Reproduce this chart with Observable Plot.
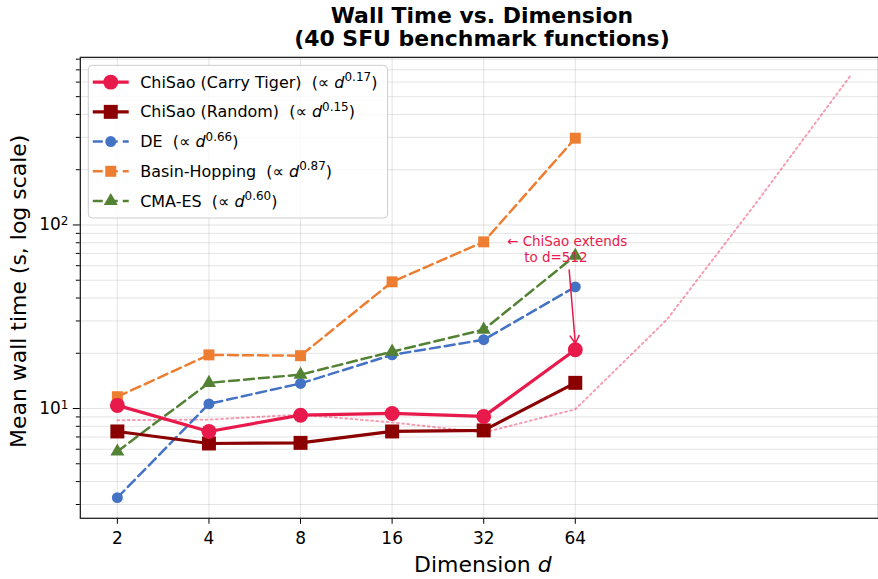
<!DOCTYPE html>
<html><head><meta charset="utf-8">
<script src="https://cdn.jsdelivr.net/npm/d3@7"></script>
<script src="https://cdn.jsdelivr.net/npm/@observablehq/plot@0.6"></script>
<style>
html,body{margin:0;padding:0;background:#fff;overflow:hidden;}
#chart{width:878px;height:579px;overflow:hidden;position:relative;}
</style></head><body><div id="chart"></div>
<script>
// ---------------- data ----------------
const dims = [2, 4, 8, 16, 32, 64];
const carryTiger = [10.4, 7.5, 9.2, 9.4, 9.06, 20.9];
const randomCS   = [7.5, 6.45, 6.5, 7.5, 7.6, 13.8];
const deVals     = [3.27, 10.6, 13.7, 19.6, 23.7, 46];
const basinVals  = [11.6, 19.6, 19.4, 49, 80.9, 297];
const cmaVals    = [5.83, 13.8, 15.3, 20.4, 26.9, 68];
const extDims = [2, 4, 8, 16, 32, 64, 128, 256, 512];
const extVals = [8.64, 8.7, 9.27, 8.4, 7.4, 9.9, 30.5, 137, 646];
const seriesNames = ["ChiSao (Carry Tiger)", "ChiSao (Random)", "DE", "Basin-Hopping", "CMA-ES"];
const exponents = ["0.17", "0.15", "0.66", "0.87", "0.60"];
const yMajor = [10, 100];
const yMinor = [3,4,5,6,7,8,9,20,30,40,50,60,70,80,90,200,300,400,500,600,700,800];
const titleLines = ["Wall Time vs. Dimension", "(40 SFU benchmark functions)"];
const xLabelText = "Dimension ";
const yLabelText = "Mean wall time (s, log scale)";
const annotLines = ["\u2190 ChiSao extends", "to d=512"];

// ---------------- styles ----------------
const values = [carryTiger, randomCS, deVals, basinVals, cmaVals];
const colors = ["#e8194b", "#8b0000", "#4472c4", "#ed7d31", "#548235"];
const symbols = ["circle", "square", "circle", "square", "triangle"];
const d3symbols = {circle: d3.symbolCircle, square: d3.symbolSquare, triangle: d3.symbolTriangle};
const widths = [3.2, 3.2, 2.5, 2.5, 2.5];
const dashes = [null, null, "10,5", "10,5", "10,5"];
const radii = [7.5, 7.9, 5.5, 6.2, 5.2];
const drawOrder = [2, 3, 4, 1, 0];
const annot = [{d: 38.2, t: 81.3}, {d: 43.5, t: 66.6}];
const arrowSpec = {x1: 61.1, y1: 56.9, x2: 64, y2: 22.6};

const rows = seriesNames.map((name, i) => dims.map((d, j) => ({series: name, d, t: values[i][j]})));
const extRows = extDims.map((d, j) => ({d, t: extVals[j]}));

const seriesMarks = drawOrder.flatMap(i => [
  Plot.line(rows[i], {x: "d", y: "t", stroke: colors[i], strokeWidth: widths[i],
    strokeDasharray: dashes[i] || undefined, strokeLinejoin: "round"}),
  Plot.dot(rows[i], {x: "d", y: "t", symbol: () => symbols[i], r: radii[i], fill: colors[i], stroke: "none"})
]);

const svg = Plot.plot({
  width: 880, height: 579,
  marginLeft: 80, marginRight: 0, marginTop: 57, marginBottom: 60,
  x: {type: "log", base: 2, domain: [1.511, 635]},
  y: {type: "log", domain: [2.523, 818.5]},
  style: {fontFamily: "DejaVu Sans", fontSize: "17px", color: "#000", background: "#fff", overflow: "visible"},
  marks: [
    Plot.gridY(yMajor.concat(yMinor), {stroke: "#b0b0b0", strokeOpacity: 0.35, strokeWidth: 1}),
    Plot.gridX(dims, {stroke: "#b0b0b0", strokeOpacity: 0.35, strokeWidth: 1}),
    Plot.line(extRows, {x: "d", y: "t", stroke: colors[0], strokeOpacity: 0.42, strokeWidth: 2, strokeDasharray: "1.8,3.4"}),
    ...seriesMarks,
    Plot.arrow([arrowSpec], {x1: "x1", y1: "y1", x2: "x2", y2: "y2", stroke: colors[0], strokeWidth: 1.5, headLength: 9, bend: 0}),
    Plot.text([annotLines[0]], {x: () => annot[0].d, y: () => annot[0].t, text: d => d, textAnchor: "start", fill: colors[0], fontSize: 13.5}),
    Plot.text([annotLines[1]], {x: () => annot[1].d, y: () => annot[1].t, text: d => d, textAnchor: "start", fill: colors[0], fontSize: 13.5}),
    Plot.axisX(dims, {tickSize: 6, tickPadding: 8, tickFormat: d => String(d), label: null, fontSize: 17}),
    Plot.axisY(yMajor, {tickSize: 7, tickPadding: 5, tickFormat: d => "10^" + Math.round(Math.log10(d)), label: null, fontSize: 17}),
    Plot.axisY(yMinor, {tickSize: 4, tickFormat: () => "", label: null}),
    Plot.frame({stroke: "#222", strokeWidth: 1.3})
  ]
});
document.getElementById("chart").appendChild(svg);

const s = d3.select(svg);
// superscript y tick labels
s.selectAll('g[aria-label="y-axis tick label"] text').each(function() {
  const t = d3.select(this);
  const txt = t.text();
  if (!txt.includes("^")) return;
  const [base, ex] = txt.split("^");
  t.text(null);
  t.append("tspan").text(base);
  t.append("tspan").attr("dy", "-0.45em").attr("font-size", "12px").text(ex);
});

// title
titleLines.forEach((line, i) => {
  s.append("text").attr("x", 483).attr("y", 23 + i * 23.5).attr("text-anchor", "middle")
    .attr("font-family", "DejaVu Sans").attr("font-weight", "bold").attr("font-size", 22).attr("fill", "#000")
    .text(line);
});
// x label
const xl = s.append("text").attr("x", 484).attr("y", 573).attr("text-anchor", "middle")
  .attr("font-family", "DejaVu Sans").attr("font-size", 22).attr("fill", "#000");
xl.append("tspan").style("white-space", "pre").text(xLabelText);
xl.append("tspan").attr("font-style", "italic").text("d");
// y label
s.append("text").attr("transform", "translate(26.5,292) rotate(-90)").attr("text-anchor", "middle")
  .attr("font-family", "DejaVu Sans").attr("font-size", 22).attr("fill", "#000").text(yLabelText);

// legend
const lg = s.append("g").attr("text-anchor", "start");
lg.append("rect").attr("x", 88.5).attr("y", 65.5).attr("width", 300).attr("height", 153).attr("rx", 4)
  .attr("fill", "#fff").attr("fill-opacity", 0.8).attr("stroke", "#ccc").attr("stroke-width", 1);
seriesNames.forEach((name, i) => {
  const cy = 82.3 + i * 29.8;
  lg.append("line").attr("x1", 93).attr("x2", 129).attr("y1", cy).attr("y2", cy)
    .attr("stroke", colors[i]).attr("stroke-width", widths[i]).attr("stroke-dasharray", dashes[i]);
  lg.append("path").attr("transform", `translate(111,${cy})`)
    .attr("d", d3.symbol(d3symbols[symbols[i]], radii[i] * radii[i] * Math.PI)()).attr("fill", colors[i]);
  const t = lg.append("text").attr("x", 140.5).attr("y", cy + 5.5).attr("text-anchor", "start")
    .attr("font-family", "DejaVu Sans").attr("font-size", 16).attr("fill", "#000").style("white-space", "pre");
  t.append("tspan").text(name + "  (\u221d ");
  t.append("tspan").attr("font-style", "italic").text("d");
  t.append("tspan").attr("font-size", 12).attr("dy", -6.5).text(exponents[i]);
  t.append("tspan").attr("dy", 6.5).text(")");
});
</script></body></html>
